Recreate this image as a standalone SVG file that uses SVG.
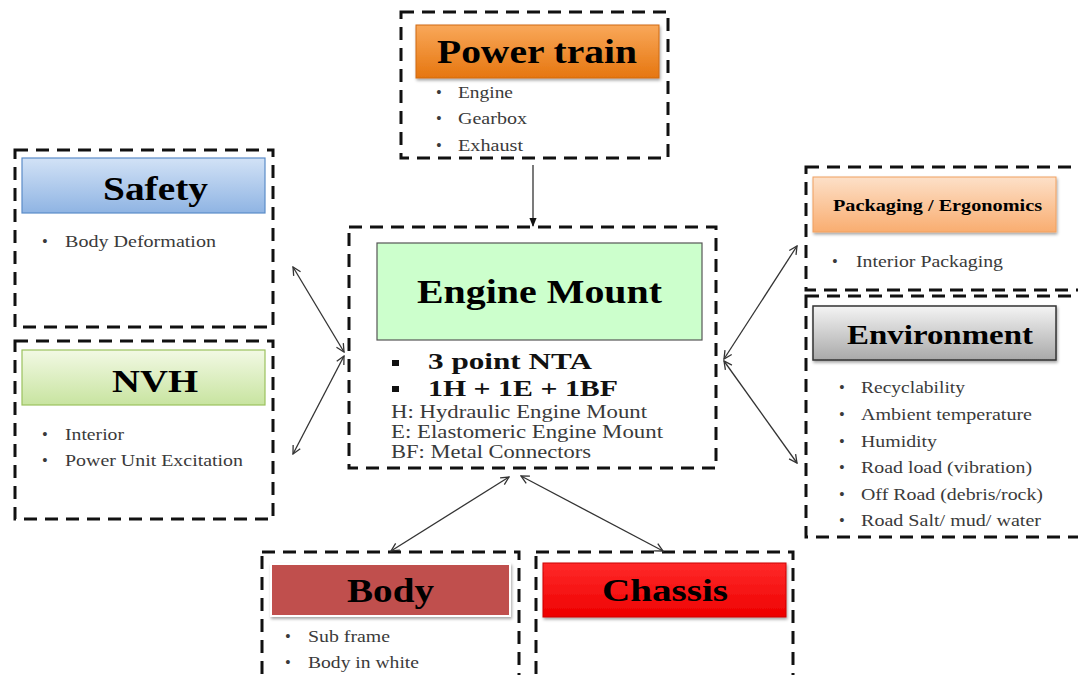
<svg xmlns="http://www.w3.org/2000/svg" width="1078" height="675" viewBox="0 0 1078 675">
<defs>
<linearGradient id="gBlue" x1="0" y1="0" x2="0" y2="1"><stop offset="0" stop-color="#d2e2f6"/><stop offset="1" stop-color="#8fb4e3"/></linearGradient>
<linearGradient id="gGreen" x1="0" y1="0" x2="0" y2="1"><stop offset="0" stop-color="#f2f9e4"/><stop offset="1" stop-color="#c8e4a0"/></linearGradient>
<linearGradient id="gOrange" x1="0" y1="0" x2="0" y2="1"><stop offset="0" stop-color="#f9a85a"/><stop offset="1" stop-color="#e6760f"/></linearGradient>
<linearGradient id="gPeach" x1="0" y1="0" x2="0" y2="1"><stop offset="0" stop-color="#fde0c8"/><stop offset="1" stop-color="#f9ad70"/></linearGradient>
<linearGradient id="gGray" x1="0" y1="0" x2="0" y2="1"><stop offset="0" stop-color="#f4f4f4"/><stop offset="1" stop-color="#a9a9a9"/></linearGradient>
<linearGradient id="gRed" x1="0" y1="0" x2="0" y2="1"><stop offset="0" stop-color="#ff2a2a"/><stop offset="1" stop-color="#ee0000"/></linearGradient>
<filter id="sh" x="-5%" y="-10%" width="110%" height="130%"><feDropShadow dx="1" dy="2" stdDeviation="1.5" flood-color="#000" flood-opacity="0.35"/></filter>
<marker id="ah" viewBox="0 0 10 10" refX="9" refY="5" markerWidth="10" markerHeight="10" markerUnits="userSpaceOnUse" orient="auto-start-reverse"><path d="M1,1 L9,5 L1,9" fill="none" stroke="#333" stroke-width="1.3"/></marker>
<marker id="af" viewBox="0 0 10 10" refX="9" refY="5" markerWidth="9" markerHeight="9" markerUnits="userSpaceOnUse" orient="auto"><path d="M0,1 L10,5 L0,9 Z" fill="#111"/></marker>
</defs>
<style>
.dash{fill:none;stroke:#111;stroke-width:3;stroke-dasharray:13 8}
text{font-family:'Liberation Serif','Times New Roman','DejaVu Serif',serif}
.h{font-weight:bold;fill:#000}
.b{font-size:16.5px;fill:#3a3a3a}
.em{font-size:19px;fill:#3a3a3a}
.eb{font-size:23px;font-weight:bold;fill:#111}
.con{stroke:#333;stroke-width:1.3;fill:none}
</style>
<rect width="1078" height="675" fill="#fff"/>

<g id="powertrain">
<rect class="dash" x="401" y="12" width="267" height="146"/>
<rect x="416" y="25" width="243" height="53" fill="url(#gOrange)" stroke="#d06a10" stroke-width="1" filter="url(#sh)"/>
<text class="h" x="437" y="63" font-size="33" textLength="200" lengthAdjust="spacingAndGlyphs">Power train</text>
<text class="b" x="436" y="98">•</text><text class="b" x="458" y="98" textLength="55" lengthAdjust="spacingAndGlyphs">Engine</text>
<text class="b" x="436" y="124">•</text><text class="b" x="458" y="124" textLength="69" lengthAdjust="spacingAndGlyphs">Gearbox</text>
<text class="b" x="436" y="151">•</text><text class="b" x="458" y="151" textLength="65" lengthAdjust="spacingAndGlyphs">Exhaust</text>
</g>

<g id="enginemount">
<rect class="dash" x="349" y="227" width="367" height="241"/>
<rect x="377" y="243" width="325" height="97" fill="#ccffcc" stroke="#555" stroke-width="1.2"/>
<text class="h" x="417" y="303" font-size="33" textLength="245" lengthAdjust="spacingAndGlyphs">Engine Mount</text>
<rect x="392" y="360" width="7" height="6" fill="#111"/>
<text class="eb" x="428" y="369" textLength="164" lengthAdjust="spacingAndGlyphs">3 point NTA</text>
<rect x="392" y="386" width="7" height="6" fill="#111"/>
<text class="eb" x="428" y="396" textLength="190" lengthAdjust="spacingAndGlyphs">1H + 1E + 1BF</text>
<text class="em" x="391" y="418" textLength="256" lengthAdjust="spacingAndGlyphs">H: Hydraulic Engine Mount</text>
<text class="em" x="391" y="438" textLength="272" lengthAdjust="spacingAndGlyphs">E: Elastomeric Engine Mount</text>
<text class="em" x="391" y="458" textLength="200" lengthAdjust="spacingAndGlyphs">BF: Metal Connectors</text>
</g>

<g id="safety">
<rect class="dash" x="15" y="150" width="258" height="177"/>
<rect x="22" y="158" width="243" height="55" fill="url(#gBlue)" stroke="#5b8cc8" stroke-width="1.2"/>
<text class="h" x="103" y="200" font-size="33" textLength="105" lengthAdjust="spacingAndGlyphs">Safety</text>
<text class="b" x="42" y="247">•</text><text class="b" x="65" y="247" textLength="151" lengthAdjust="spacingAndGlyphs">Body Deformation</text>
</g>

<g id="nvh">
<rect class="dash" x="15" y="341" width="258" height="178"/>
<rect x="22" y="350" width="243" height="55" fill="url(#gGreen)" stroke="#9bc25e" stroke-width="1.2"/>
<text class="h" x="112" y="392" font-size="32" textLength="86" lengthAdjust="spacingAndGlyphs">NVH</text>
<text class="b" x="42" y="440">•</text><text class="b" x="65" y="440" textLength="59" lengthAdjust="spacingAndGlyphs">Interior</text>
<text class="b" x="42" y="466">•</text><text class="b" x="65" y="466" textLength="178" lengthAdjust="spacingAndGlyphs">Power Unit Excitation</text>
</g>

<g id="packaging">
<rect class="dash" x="806" y="167" width="290" height="123"/>
<rect x="813" y="177" width="243" height="55" fill="url(#gPeach)" stroke="#f0a060" stroke-width="1" filter="url(#sh)"/>
<text class="h" x="833" y="211" font-size="17" textLength="209" lengthAdjust="spacingAndGlyphs">Packaging / Ergonomics</text>
<text class="b" x="832" y="267">•</text><text class="b" x="856" y="267" textLength="147" lengthAdjust="spacingAndGlyphs">Interior Packaging</text>
</g>

<g id="environment">
<rect class="dash" x="806" y="296" width="290" height="241"/>
<rect x="813" y="306" width="243" height="54" fill="url(#gGray)" stroke="#333" stroke-width="1.5" filter="url(#sh)"/>
<text class="h" x="847" y="344" font-size="28" textLength="186" lengthAdjust="spacingAndGlyphs">Environment</text>
<text class="b" x="839" y="393">•</text><text class="b" x="861" y="393" textLength="104" lengthAdjust="spacingAndGlyphs">Recyclability</text>
<text class="b" x="839" y="420">•</text><text class="b" x="861" y="420" textLength="171" lengthAdjust="spacingAndGlyphs">Ambient temperature</text>
<text class="b" x="839" y="447">•</text><text class="b" x="861" y="447" textLength="76" lengthAdjust="spacingAndGlyphs">Humidity</text>
<text class="b" x="839" y="473">•</text><text class="b" x="861" y="473" textLength="171" lengthAdjust="spacingAndGlyphs">Road load (vibration)</text>
<text class="b" x="839" y="500">•</text><text class="b" x="861" y="500" textLength="182" lengthAdjust="spacingAndGlyphs">Off Road (debris/rock)</text>
<text class="b" x="839" y="526">•</text><text class="b" x="861" y="526" textLength="180" lengthAdjust="spacingAndGlyphs">Road Salt/ mud/ water</text>
</g>

<g id="body">
<rect class="dash" x="262" y="552" width="257" height="140"/>
<rect x="271" y="564" width="239" height="52" fill="#c0504d" stroke="#fff" stroke-width="2" filter="url(#sh)"/>
<text class="h" x="347" y="602" font-size="33" textLength="87" lengthAdjust="spacingAndGlyphs">Body</text>
<text class="b" x="285" y="642">•</text><text class="b" x="308" y="642" textLength="82" lengthAdjust="spacingAndGlyphs">Sub frame</text>
<text class="b" x="285" y="668">•</text><text class="b" x="308" y="668" textLength="111" lengthAdjust="spacingAndGlyphs">Body in white</text>
</g>

<g id="chassis">
<rect class="dash" x="536" y="552" width="257" height="140"/>
<rect x="543" y="563" width="243" height="54" fill="url(#gRed)" stroke="#c00" stroke-width="1" filter="url(#sh)"/>
<text class="h" x="602" y="601" font-size="32" textLength="126" lengthAdjust="spacingAndGlyphs">Chassis</text>
</g>

<g id="connectors">
<line class="con" x1="533" y1="165" x2="533" y2="226" marker-end="url(#af)"/>
<line class="con" x1="293" y1="267" x2="344" y2="352" marker-start="url(#ah)" marker-end="url(#ah)"/>
<line class="con" x1="344" y1="356" x2="293" y2="454" marker-start="url(#ah)" marker-end="url(#ah)"/>
<line class="con" x1="724" y1="359" x2="797" y2="246" marker-start="url(#ah)" marker-end="url(#ah)"/>
<line class="con" x1="724" y1="361" x2="797" y2="463" marker-start="url(#ah)" marker-end="url(#ah)"/>
<line class="con" x1="509" y1="477" x2="391" y2="551" marker-start="url(#ah)" marker-end="url(#ah)"/>
<line class="con" x1="521" y1="476" x2="663" y2="551" marker-start="url(#ah)" marker-end="url(#ah)"/>
</g>
</svg>
